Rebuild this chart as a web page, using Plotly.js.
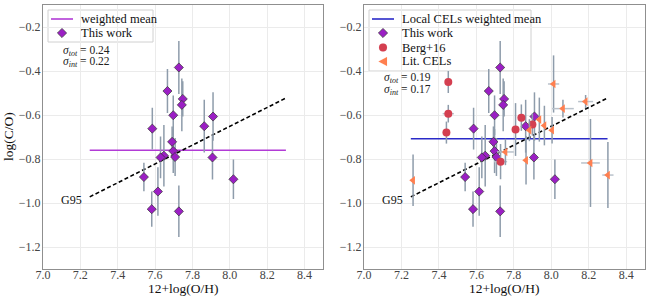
<!DOCTYPE html>
<html><head><meta charset="utf-8">
<script src="https://cdn.plot.ly/plotly-3.0.1.min.js"></script>
<style>html,body{margin:0;padding:0;background:#fff}#chart{width:660px;height:300px}</style>
</head><body><div id="chart"></div>
<script>
// This work (both panels)
const workOH = [7.727, 7.666, 7.748, 7.743, 7.697, 7.585, 7.910, 7.863, 7.691, 7.697, 7.647, 7.629, 7.707, 7.907, 7.540, 8.019, 7.615, 7.582, 7.727];
const workCO = [-0.384, -0.491, -0.527, -0.554, -0.601, -0.662, -0.607, -0.651, -0.722, -0.764, -0.785, -0.793, -0.791, -0.793, -0.882, -0.892, -0.948, -1.028, -1.038];
const workErr = [0.12, 0.10, 0.08, 0.12, 0.09, 0.095, 0.11, 0.12, 0.07, 0.10, 0.14, 0.095, 0.086, 0.10, 0.065, 0.09, 0.11, 0.08, 0.117];
// Berg+16
const bergOH = [7.450, 7.450, 7.440, 7.840, 7.809, 7.899, 7.729];
const bergCO = [-0.450, -0.594, -0.680, -0.612, -0.666, -0.643, -0.812];
const bergErrY = [0.05, 0.04, 0.05, 0.06, 0.12, 0.05, 0.08];
const bergErrX = [0.0, 0.03, 0.0, 0.0, 0.0, 0.0, 0.035];
// Lit. CELs
const litOH = [7.262, 7.755, 7.865, 7.883, 7.936, 7.963, 8.004, 8.012, 8.062, 8.183, 8.209, 8.302];
const litCO = [-0.897, -0.768, -0.806, -0.669, -0.621, -0.648, -0.669, -0.459, -0.571, -0.539, -0.818, -0.873];
const litErrY = [0.117, 0.06, 0.11, 0.05, 0.10, 0.09, 0.06, 0.13, 0.04, 0.03, 0.20, 0.15];
const litErrX = [0.0, 0.045, 0.0, 0.0, 0.0, 0.0, 0.0, 0.03, 0.058, 0.04, 0.05, 0.03];
// weighted means and G95 relation
const meanOH = [7.25, 8.30];
const meanLeft = -0.76;
const meanRight = -0.708;
const g95OH = [7.25, 8.30];
const g95CO = [-0.972, -0.523];
const sigmaLeft = {tot: '0.24', int: '0.22'};
const sigmaRight = {tot: '0.19', int: '0.17'};
const legendLeft = ['weighted mean', 'This work'];
const legendRight = ['Local CELs weighted mean', 'This work', 'Berg+16', 'Lit. CELs'];
const xTitleText = '12+log(O/H)';
const yTitleText = 'log(C/O)';

const FONT = 'Liberation Serif, Times New Roman, serif';
const PURPLE = '#9b1fc4';
const MEANL = '#b23bd6';
const MEANR = '#2a2ac8';
const BERG = '#d43f50';
const LIT = '#ff7f4f';
const ERRC = '#8e9cab';

function ax(extra) {
  return Object.assign({
    showgrid: true, gridcolor: '#ebebeb', gridwidth: 1, zeroline: false,
    showline: true, linecolor: '#8f8f8f', linewidth: 1, mirror: true,
    ticks: '', tickfont: {family: FONT, size: 12, color: '#444'},
    automargin: false, tickformat: '.1f'
  }, extra);
}

const work = (xa, ya) => ({
  x: workOH, y: workCO, xaxis: xa, yaxis: ya, type: 'scatter', mode: 'markers',
  name: 'This work', showlegend: false,
  error_y: {type: 'data', array: workErr, color: ERRC, thickness: 1.5, width: 0},
  marker: {symbol: 'diamond', size: 7, color: PURPLE, line: {color: '#333', width: 0.7}}
});
const g95 = (xa, ya) => ({
  x: g95OH, y: g95CO, xaxis: xa, yaxis: ya, type: 'scatter', mode: 'lines',
  showlegend: false, hoverinfo: 'skip',
  line: {color: '#000', width: 1.6, dash: '4px,2.5px'}
});

const traces = [
  {x: meanOH, y: meanOH.map(() => meanLeft), xaxis: 'x', yaxis: 'y', type: 'scatter', mode: 'lines',
   name: 'weighted mean', showlegend: false, line: {color: MEANL, width: 1.6}},
  g95('x', 'y'),
  work('x', 'y'),
  {x: meanOH, y: meanOH.map(() => meanRight), xaxis: 'x2', yaxis: 'y2', type: 'scatter', mode: 'lines',
   name: 'Local CELs weighted mean', showlegend: false, line: {color: MEANR, width: 1.6}},
  g95('x2', 'y2'),
  work('x2', 'y2'),
  {x: bergOH, y: bergCO, xaxis: 'x2', yaxis: 'y2', type: 'scatter', mode: 'markers',
   name: 'Berg+16', showlegend: false,
   error_y: {type: 'data', array: bergErrY, color: ERRC, thickness: 1.5, width: 0},
   error_x: {type: 'data', array: bergErrX, color: '#b9c2cb', thickness: 1.5, width: 0},
   marker: {symbol: 'circle', size: 8, color: BERG}},
  {x: litOH, y: litCO, xaxis: 'x2', yaxis: 'y2', type: 'scatter', mode: 'markers',
   name: 'Lit. CELs', showlegend: false,
   error_y: {type: 'data', array: litErrY, color: ERRC, thickness: 1.5, width: 0},
   error_x: {type: 'data', array: litErrX, color: '#b9c2cb', thickness: 1.5, width: 0},
   marker: {symbol: 'triangle-left', size: 7.5, color: LIT}}
];

// pixel -> paper helpers (plot area: x 43..645, y 5..269)
const PX = p => (p - 43) / 602;
const PY = p => (269 - p) / 264;

const shapes = [];
const annotations = [];

function legendBox(x0, x1, y0, y1) {
  shapes.push({type: 'rect', xref: 'paper', yref: 'paper', x0: PX(x0), x1: PX(x1), y0: PY(y1), y1: PY(y0),
    fillcolor: 'rgba(255,255,255,0.95)', line: {color: '#d0d0d0', width: 1}, layer: 'between'});
}
function legendLabel(px, py, text) {
  annotations.push({xref: 'paper', yref: 'paper', x: PX(px), y: PY(py), xanchor: 'left', yanchor: 'middle',
    showarrow: false, text: text, font: {family: FONT, size: 12.5, color: '#111'}});
}
function legendLine(cx, py, color) {
  shapes.push({type: 'line', xref: 'paper', yref: 'paper', x0: PX(cx - 11), x1: PX(cx + 11), y0: PY(py), y1: PY(py),
    line: {color: color, width: 1.6}, layer: 'above'});
}
function legendPath(cx, py, path, color, lc) {
  shapes.push({type: 'path', xref: 'paper', yref: 'paper', xsizemode: 'pixel', ysizemode: 'pixel',
    xanchor: PX(cx), yanchor: PY(py), path: path, fillcolor: color,
    line: {color: lc || color, width: lc ? 0.7 : 0.1}, layer: 'above'});
}
const DIAMOND = 'M0,4.6L4.6,0L0,-4.6L-4.6,0Z';
const TRI_L = 'M-4.5,0L4,4.5L4,-4.5Z';
function legendCircle(cx, py, color) {
  shapes.push({type: 'circle', xref: 'paper', yref: 'paper', xsizemode: 'pixel', ysizemode: 'pixel',
    xanchor: PX(cx), yanchor: PY(py), x0: -4, x1: 4, y0: -4, y1: 4, fillcolor: color,
    line: {color: color, width: 0.1}, layer: 'above'});
}

// left legend
legendBox(48, 153, 10, 42);
legendLine(62, 19, MEANL); legendLabel(79, 19, legendLeft[0]);
legendPath(62, 33, DIAMOND, PURPLE, '#333'); legendLabel(79, 33, legendLeft[1]);
// right legend
legendBox(369, 531, 10, 71);
legendLine(383, 19, MEANR); legendLabel(400, 19, legendRight[0]);
legendPath(383, 33, DIAMOND, PURPLE, '#333'); legendLabel(400, 33, legendRight[1]);
legendCircle(383, 47.5, BERG); legendLabel(400, 47.5, legendRight[2]);
legendPath(383, 61.5, TRI_L, LIT); legendLabel(400, 61.5, legendRight[3]);

const sig = (xref, yref, s, ytot, yint) => ([
  {xref: xref + ' domain', yref: yref + ' domain', x: 0.064, y: ytot, xanchor: 'left', yanchor: 'middle',
   showarrow: false, text: '<i>σ</i><sub><i>tot</i></sub> = ' + s.tot, font: {family: FONT, size: 11.5, color: '#222'}},
  {xref: xref + ' domain', yref: yref + ' domain', x: 0.064, y: yint, xanchor: 'left', yanchor: 'middle',
   showarrow: false, text: '<i>σ</i><sub><i>int</i></sub> = ' + s.int, font: {family: FONT, size: 11.5, color: '#222'}}
]);

annotations.push(
  ...sig('x', 'y', sigmaLeft, PY(51), PY(62.5)),
  ...sig('x2', 'y2', sigmaRight, PY(78), PY(89.5)),
  {xref: 'x', yref: 'y', x: g95OH[0], y: g95CO[0], xanchor: 'right', yanchor: 'middle', xshift: -6, yshift: -3,
   showarrow: false, text: 'G95', font: {family: FONT, size: 12, color: '#111'}},
  {xref: 'x2', yref: 'y2', x: g95OH[0], y: g95CO[0], xanchor: 'right', yanchor: 'middle', xshift: -6, yshift: -3,
   showarrow: false, text: 'G95', font: {family: FONT, size: 12, color: '#111'}},
  {xref: 'paper', yref: 'paper', x: -0.058, y: 0.5, textangle: -90, xanchor: 'center', yanchor: 'middle',
   showarrow: false, text: yTitleText, font: {family: FONT, size: 13.5, color: '#111'}},
  {xref: 'x domain', yref: 'paper', x: 0.5, y: PY(288.5), xanchor: 'center', yanchor: 'middle',
   showarrow: false, text: xTitleText, font: {family: FONT, size: 13.5, color: '#111'}},
  {xref: 'x2 domain', yref: 'paper', x: 0.5, y: PY(288.5), xanchor: 'center', yanchor: 'middle',
   showarrow: false, text: xTitleText, font: {family: FONT, size: 13.5, color: '#111'}}
);

const layout = {
  width: 660, height: 300,
  margin: {l: 43, r: 15, t: 5, b: 31},
  paper_bgcolor: '#fff', plot_bgcolor: '#fff',
  showlegend: false,
  xaxis: ax({domain: [0, 0.4656], range: [7.0, 8.5], dtick: 0.2, tick0: 7.0, ticklabelstandoff: -5}),
  yaxis: ax({domain: [0, 1], range: [-1.3, -0.1], dtick: 0.2, tick0: -0.2, ticklabelstandoff: -1}),
  xaxis2: ax({domain: [0.5332, 1.0], range: [7.0, 8.5], dtick: 0.2, tick0: 7.0, ticklabelstandoff: -5}),
  yaxis2: ax({domain: [0, 1], range: [-1.3, -0.1], dtick: 0.2, tick0: -0.2, ticklabelstandoff: -1, anchor: 'x2'}),
  shapes: shapes,
  annotations: annotations
};

Plotly.newPlot('chart', traces, layout, {staticPlot: true, displayModeBar: false});
</script>
</body></html>
